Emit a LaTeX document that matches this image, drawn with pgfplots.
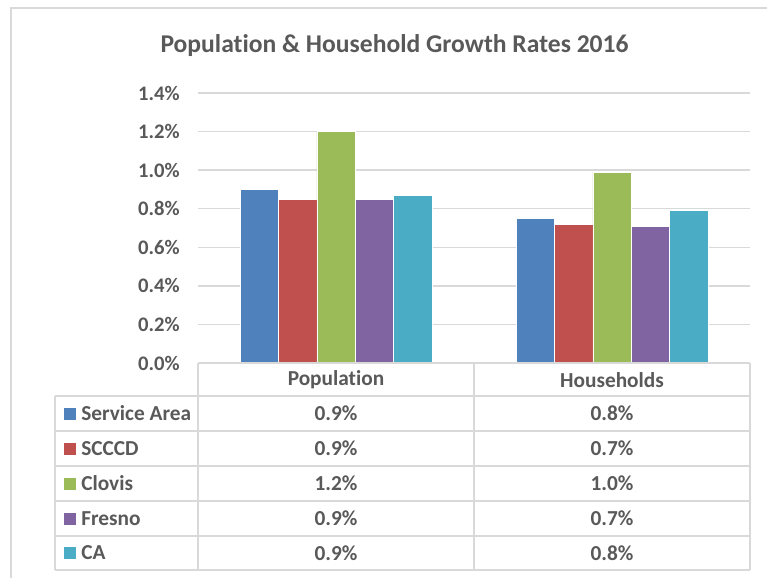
\documentclass[border=0pt]{standalone}
\usepackage{fontspec}
\setmainfont{Carlito}[Ligatures=NoCommon]
\usepackage{pgfplots}
\pgfplotsset{compat=1.18}
\definecolor{txt}{HTML}{595959}
\definecolor{grd}{HTML}{D9D9D9}
\definecolor{cSA}{HTML}{4F81BD}
\definecolor{cSC}{HTML}{C0504D}
\definecolor{cCL}{HTML}{9BBB59}
\definecolor{cFR}{HTML}{8064A2}
\definecolor{cCA}{HTML}{4BACC6}
\begin{document}
\begin{tikzpicture}
\begin{scope}[x=0.75pt,y=-0.75pt]
\path[use as bounding box] (0,0) rectangle (767,578);
\draw[grd,line width=0.9pt] (11,578) -- (11,8) -- (767,8);
\node[anchor=base,text=txt,font=\fontsize{19.2}{21}\selectfont\bfseries] at (394.5,52) {Population \& Household Growth Rates 2016};
\end{scope}
\begin{axis}[
  at={(148.5pt,-272.25pt)}, anchor=south west,
  scale only axis, width=414pt, height=202.5pt,
  xmin=-0.5, xmax=1.5, ymin=0, ymax=1.4,
  ytick={0,0.2,0.4,0.6,0.8,1.0,1.2,1.4},
  xtick=\empty,
  axis line style={draw=none},
  major tick length=0pt,
  ymajorgrids, grid style={grd,line width=1.1pt},
  yticklabel={\pgfmathprintnumber[fixed,fixed zerofill,precision=1]{\tick}\%},
  yticklabel style={text=txt,font=\fontsize{15.5}{17}\selectfont\bfseries,inner sep=0pt,xshift=-13.5pt},
  /pgf/number format/assume math mode=true,
  ybar=0pt, bar width=28.8pt,
  clip=false,
]
\addplot[fill=cSA,draw=white,line width=0.3pt] coordinates {(0,0.90) (1,0.75)};
\addplot[fill=cSC,draw=white,line width=0.3pt] coordinates {(0,0.85) (1,0.72)};
\addplot[fill=cCL,draw=white,line width=0.3pt] coordinates {(0,1.20) (1,0.99)};
\addplot[fill=cFR,draw=white,line width=0.3pt] coordinates {(0,0.85) (1,0.71)};
\addplot[fill=cCA,draw=white,line width=0.3pt] coordinates {(0,0.87) (1,0.79)};
\end{axis}
\begin{scope}[x=0.75pt,y=-0.75pt]
\draw[grd,line width=1.1pt] (198,363) -- (750,363);
\foreach \yy in {396,431,466,501,536,570} \draw[grd,line width=1.1pt] (55,\yy) -- (750,\yy);
\draw[grd,line width=1.1pt] (55,396) -- (55,570);
\foreach \xx in {198,474,750} \draw[grd,line width=1.1pt] (\xx,363) -- (\xx,570);
\tikzset{t/.style={text=txt,font=\fontsize{16}{18}\selectfont\bfseries,inner sep=0pt}}
\node[t] at (336,380) {Population};
\node[t] at (612,380) {Households};
\foreach \yc/\nm/\cc/\va/\vb in {413.5/Service Area/cSA/0.9/0.8, 448.5/SCCCD/cSC/0.9/0.7, 483.5/Clovis/cCL/1.2/1.0, 518.5/Fresno/cFR/0.9/0.7, 553/CA/cCA/0.9/0.8}{
  \fill[\cc] (64,\yc-6) rectangle (76,\yc+6);
  \node[t,anchor=west] at (81,\yc) {\nm};
  \node[t] at (336,\yc) {\va\%};
  \node[t] at (612,\yc) {\vb\%};
}
\end{scope}
\end{tikzpicture}
\end{document}
